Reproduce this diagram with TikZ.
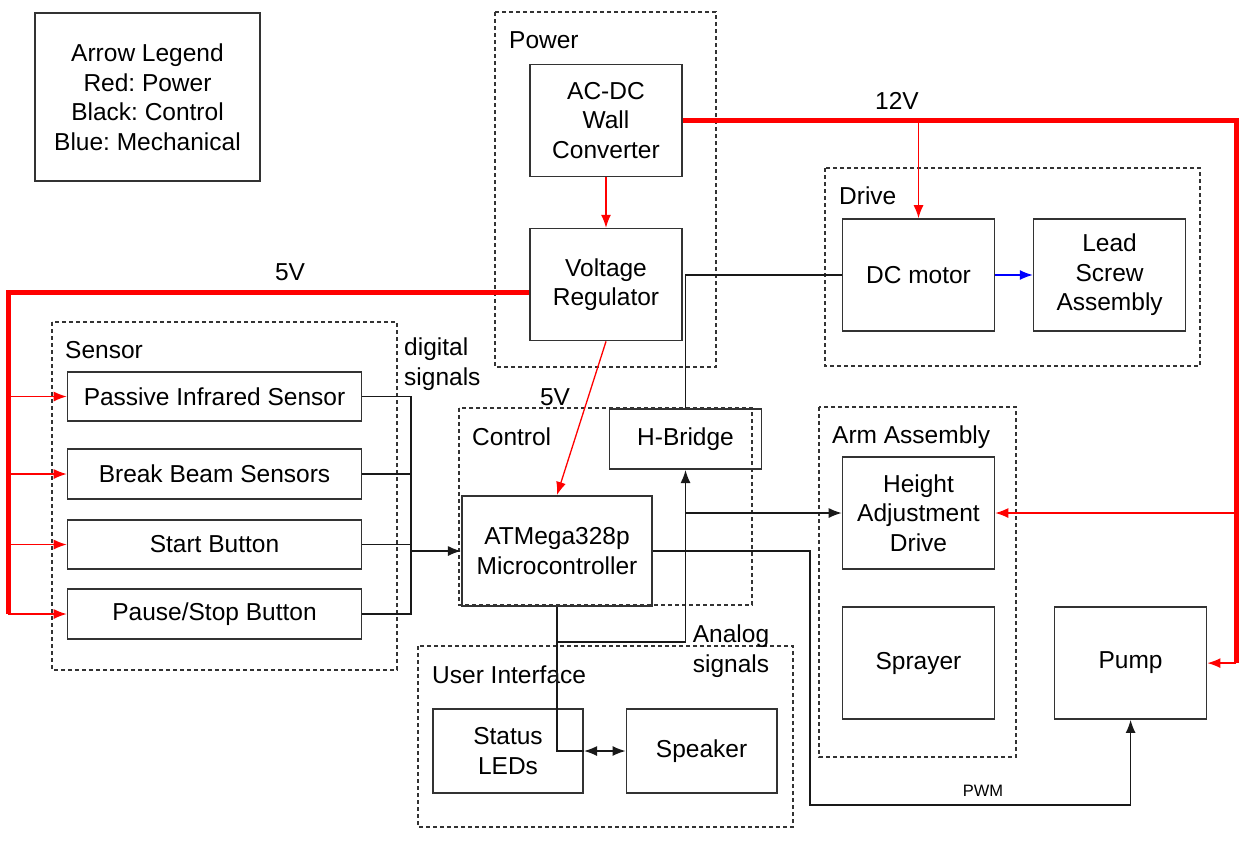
\documentclass[tikz,border=0pt]{standalone}
\usepackage{fontspec}
\setmainfont{Liberation Sans}
\usetikzlibrary{arrows.meta,positioning}
\frenchspacing

\begin{document}
\begin{tikzpicture}[
  x=1pt,y=-1pt,
  font=\fontsize{24.5}{29.5}\selectfont,
  >={Latex[length=13pt,width=10pt]},
  block/.style={draw=black!80,line width=1.6pt,align=center,minimum width=152pt,minimum height=112pt,inner sep=2pt},
  sensorbox/.style={block,minimum width=294pt,minimum height=49.5pt},
  group/.style={draw=black!80,line width=1.2pt,dash pattern=on 4pt off 3pt},
  grouplabel/.style={anchor=west,inner sep=0pt},
  ctrl/.style={black!90,line width=1.3pt},
  pwr/.style={red,line width=1.3pt},
  bus/.style={red,line width=5pt},
  mech/.style={blue,line width=1.3pt}
]
  \useasboundingbox (0,0) rectangle (1252,855);

  % groups
  \draw[group] (495,12) rectangle (716,367);
  \draw[group] (825,168) rectangle (1200,366);
  \draw[group] (52,322) rectangle (397,670);
  \draw[group] (459,408) rectangle (752,605);
  \draw[group] (418,646) rectangle (793,827);
  \draw[group] (819,407) rectangle (1016,757);
  \node[grouplabel] (powerlbl) at (509,40) {Power};
  \node[grouplabel] (drivelbl) at (839,196) {Drive};
  \node[grouplabel] (sensorlbl) at (65,350) {Sensor};
  \node[grouplabel] (controllbl) at (472,437) {Control};
  \node[grouplabel] (uilbl) at (432,675) {User Interface};
  \node[grouplabel] (armlbl) at (832,437) {Arm Assembly};

  % legend
  \node[block,minimum width=225pt,minimum height=168pt] (legend) at (147.5,97)
    {Arrow Legend\\Red: Power\\Black: Control\\Blue: Mechanical};

  % blocks
  \node[block] (acdc) at (606,120.5) {AC-DC\\Wall\\Converter};
  \node[block,below=50.5pt of acdc] (vreg) {Voltage\\Regulator};
  \node[block] (motor) at (918.5,275) {DC motor};
  \node[block,right=37.5pt of motor] (lead) {Lead\\Screw\\Assembly};
  \node[block] (height) at (918.5,513) {Height\\Adjustment\\Drive};
  \node[block,below=36.5pt of height] (sprayer) {Sprayer};
  \node[block,right=58.5pt of sprayer] (pump) {Pump};
  \node[block,minimum height=60.5pt] (hbridge) at (685.5,439) {H-Bridge};
  \node[block,minimum width=190.5pt,minimum height=110.5pt] (mcu) at (557,551) {ATMega328p\\Microcontroller};
  \node[block,minimum width=150.5pt,minimum height=84.5pt] (leds) at (508,751) {Status\\LEDs};
  \node[block,minimum width=150.5pt,minimum height=84.5pt,right=41.5pt of leds] (speaker) {Speaker};
  \node[sensorbox] (pir) at (214.5,396.5) {Passive Infrared Sensor};
  \node[sensorbox,below=26.4pt of pir] (beam) {Break Beam Sensors};
  \node[sensorbox,below=19.4pt of beam] (start) {Start Button};
  \node[sensorbox,below=18.4pt of start] (pause) {Pause/Stop Button};

  % labels
  \node (v12lbl) at (897,101) {12V};
  \node (v5lbl) at (290,272) {5V};
  \node (v5mculbl) at (555,397) {5V};
  \node[align=left,anchor=west,inner sep=0pt] (diglbl) at (404,364) {digital\\signals};
  \node[align=center,inner sep=0pt] (analoglbl) at (731,651) {Analog\\signals};
  \node[font=\fontsize{16.5}{19}\selectfont] (pwmlbl) at (983,791) {PWM};

  % power
  \draw[pwr,->] (acdc) -- (vreg);
  \draw[bus] (acdc.east) -| ([xshift=29pt]pump.east) coordinate (bus12);
  \draw[pwr,->] (bus12) -- (pump.east);
  \draw[pwr,->] (bus12 |- height.east) -- (height.east);
  \draw[pwr,->] (motor.north |- acdc.east) -- (motor.north);
  \draw[bus] ([yshift=-8pt]vreg.west) -| ([xshift=-58.5pt]pause.west) coordinate (bus5);
  \foreach \s in {pir,beam,start,pause}
    \draw[pwr,->] (bus5 |- \s.west) -- (\s.west);
  \draw[pwr,->] (vreg.south) -- (mcu.north);

  % control
  \coordinate (digjoin) at (411,551);
  \foreach \s in {pir,beam,start,pause}
    \draw[ctrl] (\s.east) -| (digjoin);
  \draw[ctrl,->] (digjoin) -- (mcu.west);
  \draw[ctrl] (hbridge.north) |- (motor.west);
  \draw[ctrl,->] (mcu.south) -- ++(0,35) -| (hbridge.south);
  \draw[ctrl,->] (hbridge.south |- height.west) -- (height.west);
  \draw[ctrl] (mcu.south) |- (leds.east);
  \draw[ctrl,<->] (leds.east) -- (speaker.west);
  \draw[ctrl,->] (mcu.east) -| (810,805) -| (pump.south);

  % mechanical
  \draw[mech,->] (motor) -- (lead);
\end{tikzpicture}
\end{document}
